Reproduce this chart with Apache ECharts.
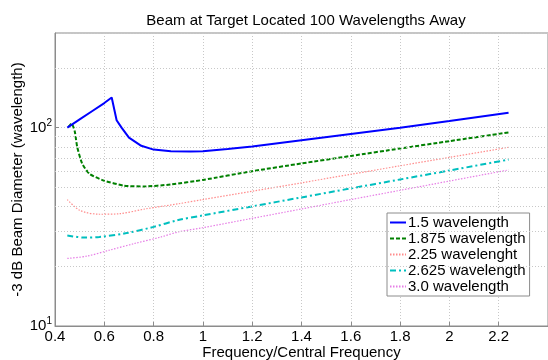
<!DOCTYPE html>
<html>
<head>
<meta charset="utf-8">
<script src="https://cdn.jsdelivr.net/npm/echarts@6/dist/echarts.min.js"></script>
<style>
  html, body { margin: 0; padding: 0; background: #fff; }
  #chart { width: 548px; height: 360px; }
</style>
</head>
<body>
<div id="chart"></div>
<script>
// series data (x = frequency / central frequency)
const names = ['1.5 wavelength', '1.875 wavelength', '2.25 wavelenght', '2.625 wavelength', '3.0 wavelength']

const x15 = [0.45, 0.5, 0.55, 0.6, 0.63, 0.65, 0.67, 0.7, 0.75, 0.8, 0.87, 0.95, 1.0, 1.1, 1.2, 1.4, 1.6, 1.8, 2.0, 2.24]
const y15 = [100, 110, 121, 133, 142, 109, 100, 89, 81, 77.5, 76, 75.8, 76, 78, 80.3, 86.5, 93, 100, 108, 119]

const x1875 = [0.455, 0.467, 0.48, 0.49, 0.51, 0.54, 0.6, 0.68, 0.76, 0.87, 1.0, 1.2, 1.4, 1.6, 1.8, 2.0, 2.24]
const y1875 = [101, 105, 96, 80, 66, 58.5, 54, 51, 50.5, 51.7, 54.5, 60.3, 66, 72, 78.5, 85.5, 94.6]

const x225 = [0.45, 0.5, 0.58, 0.66, 0.77, 0.9, 1.0, 1.2, 1.4, 1.6, 1.8, 2.0, 2.24]
const y225 = [43.4, 38.3, 36.6, 36.8, 39, 41.3, 43.4, 47.8, 52.7, 58.2, 64.2, 70.8, 79.6]

const x2625 = [0.45, 0.52, 0.58, 0.69, 0.8, 0.9, 1.0, 1.2, 1.4, 1.6, 1.8, 2.0, 2.24]
const y2625 = [28.6, 27.9, 28.1, 29.4, 31.6, 34.2, 36.1, 40.1, 44.5, 49.4, 54.8, 60.8, 69]

const x30 = [0.45, 0.53, 0.62, 0.72, 0.83, 0.9, 1.0, 1.2, 1.4, 1.6, 1.8, 2.0, 2.24]
const y30 = [21.9, 22.5, 24.1, 26, 28.1, 29.8, 31.3, 34.9, 38.9, 43.4, 48.3, 53.8, 61.2]

// minor log grid lines (matlab style)
const minorGrid = [20, 30, 40, 50, 60, 70, 80, 90, 200]

const font = 'Liberation Sans, Arial, sans-serif'
const zip = (xs, ys) => xs.map((x, i) => [x, ys[i]])

const chart = echarts.init(document.getElementById('chart'), null, { renderer: 'canvas' })

const gridLine = { show: true, lineStyle: { color: '#c8c8c8', type: [1, 2], width: 1 } }

const option = {
  backgroundColor: '#fff',
  animation: false,
  title: {
    text: 'Beam at Target Located 100 Wavelengths Away',
    left: 301,
    textAlign: 'center',
    top: 8,
    textStyle: { fontFamily: font, fontSize: 15, fontWeight: 'normal', color: '#000' }
  },
  grid: {
    left: 55,
    right: 0,
    top: 33,
    bottom: 34,
    outerBoundsMode: 'none',
    containLabel: false,
    show: true,
    borderColor: '#8c8c8c',
    borderWidth: 1
  },
  legend: {
    data: names,
    orient: 'vertical',
    left: 387,
    top: 213,
    padding: [2, 4, 2, 2],
    itemGap: 1,
    itemWidth: 16,
    itemHeight: 17,
    itemStyle: { opacity: 0 },
    backgroundColor: '#fff',
    borderColor: '#8c8c8c',
    borderWidth: 1,
    borderRadius: 0,
    textStyle: { fontFamily: font, fontSize: 15, color: '#000', padding: [0, 0, 0, -3] }
  },
  xAxis: {
    type: 'value',
    min: 0.4,
    max: 2.4,
    interval: 0.2,
    name: 'Frequency/Central Frequency',
    nameLocation: 'middle',
    nameMoveOverlap: false,
    nameGap: 19,
    nameTextStyle: { fontFamily: font, fontSize: 15, color: '#000' },
    axisLine: { lineStyle: { color: '#8c8c8c' } },
    axisTick: { inside: true, length: 4, lineStyle: { color: '#8c8c8c' } },
    axisLabel: {
      fontFamily: font, fontSize: 15, color: '#000', margin: 3,
      showMaxLabel: false,
      formatter: v => String(Math.round(v * 10) / 10)
    },
    splitLine: gridLine
  },
  yAxis: {
    type: 'log',
    logBase: 10,
    min: 10,
    max: 300,
    name: '-3 dB Beam Diameter (wavelength)',
    nameLocation: 'middle',
    nameMoveOverlap: false,
    nameGap: 30,
    nameRotate: 90,
    nameTextStyle: { fontFamily: font, fontSize: 15, color: '#000' },
    axisLine: { lineStyle: { color: '#8c8c8c' } },
    axisTick: { inside: true, length: 4, lineStyle: { color: '#8c8c8c' } },
    axisLabel: {
      fontFamily: font, fontSize: 15, color: '#000', margin: 3,
      showMaxLabel: false,
      formatter: v => {
        const e = Math.round(Math.log10(v))
        if (Math.abs(Math.pow(10, e) - v) > 1e-6) return ''
        return '10{s|' + e + '}'
      },
      rich: { s: { fontFamily: font, fontSize: 10, color: '#000', verticalAlign: 'top', padding: [0, 0, 9, 0] } }
    },
    splitLine: gridLine
  },
  series: [
    {
      name: names[0], type: 'line', showSymbol: false, symbol: 'none',
      data: zip(x15, y15),
      lineStyle: { color: '#0000ff', width: 2 }, itemStyle: { color: '#0000ff' },
      markLine: {
        silent: true, symbol: 'none', label: { show: false },
        lineStyle: { color: '#c8c8c8', type: [1, 2], width: 1 },
        data: minorGrid.map(v => ({ yAxis: v }))
      },
      z: 5
    },
    {
      name: names[1], type: 'line', showSymbol: false, symbol: 'none', smooth: 0.2,
      data: zip(x1875, y1875),
      lineStyle: { color: '#008000', width: 2, type: [4, 2] }, itemStyle: { color: '#008000' }
    },
    {
      name: names[2], type: 'line', showSymbol: false, symbol: 'none', smooth: 0.3,
      data: zip(x225, y225),
      lineStyle: { color: '#ff8c8c', width: 1.2, type: [1.5, 1.5] }, itemStyle: { color: '#ff8c8c' }
    },
    {
      name: names[3], type: 'line', showSymbol: false, symbol: 'none', smooth: 0.3,
      data: zip(x2625, y2625),
      lineStyle: { color: '#00bfbf', width: 2, type: [6, 3, 2, 3] }, itemStyle: { color: '#00bfbf' }
    },
    {
      name: names[4], type: 'line', showSymbol: false, symbol: 'none', smooth: 0.3,
      data: zip(x30, y30),
      lineStyle: { color: '#e67ee6', width: 1.2, type: [1.5, 1.5] }, itemStyle: { color: '#e67ee6' }
    }
  ]
}

chart.setOption(option)
</script>
</body>
</html>
